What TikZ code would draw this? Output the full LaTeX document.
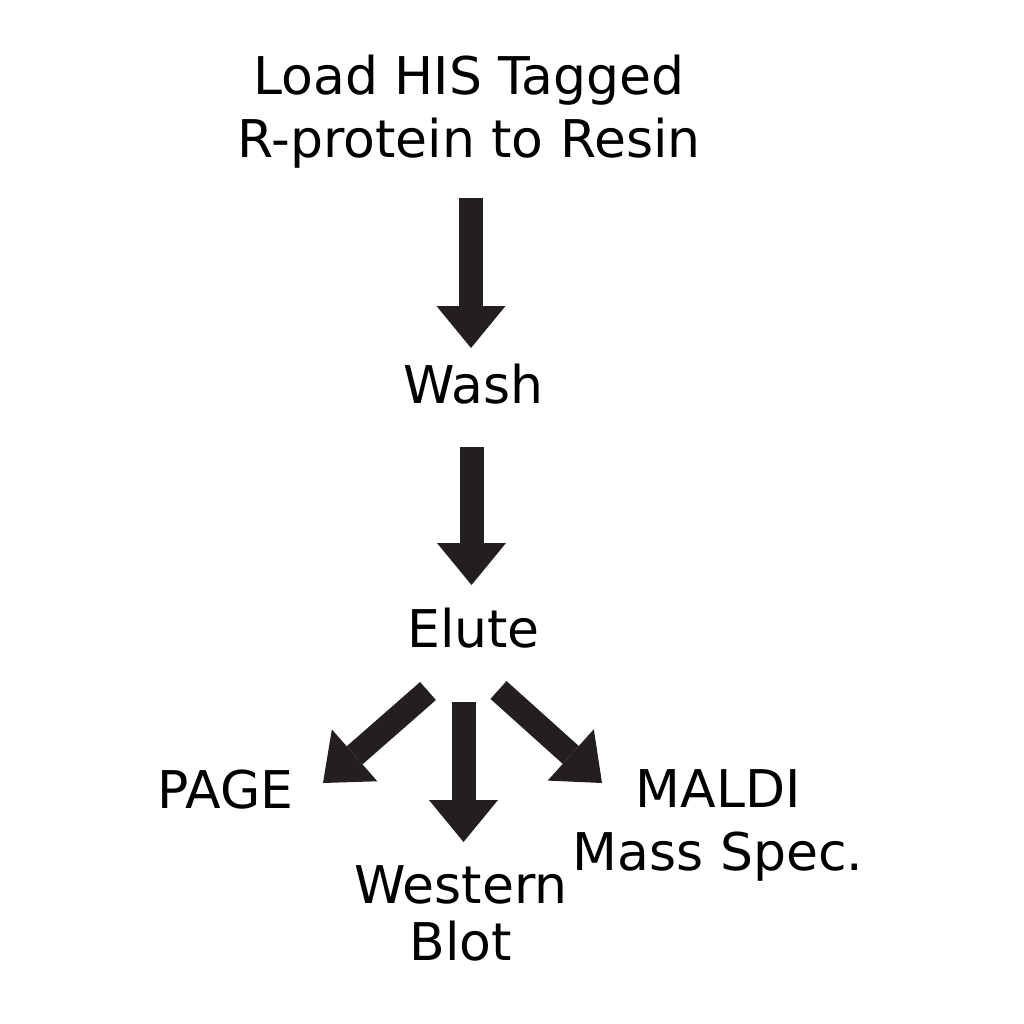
\documentclass[tikz,border=0pt]{standalone}
\usepackage{fontspec}
\setmainfont{DejaVu Sans}
\usetikzlibrary{arrows.meta}
\definecolor{arrowgray}{HTML}{231F20}
\begin{document}
\begin{tikzpicture}[x=1pt,y=-1pt,
  lbl/.style={inner sep=0pt,outer sep=0pt,anchor=base,align=center,
    font=\fontsize{52}{63}\selectfont,text=black},
  blockarrow/.style={draw=arrowgray,line width=24pt,line cap=butt,
    -{Triangle[length=42pt,width=69pt,line width=0pt]}}]
\useasboundingbox[fill=white] (0,0) rectangle (1024,1024);
% texts (base anchor = baseline of the last line)
\node[lbl] (load) at (469,158) {Load HIS Tagged\\R-protein to Resin};
\node[lbl] (wash) at (473.5,403) {Wash};
\node[lbl] (elute) at (473.5,647) {Elute};
\node[lbl] (page) at (225.5,808) {PAGE};
\node[lbl] (western) at (461,960) {Western\\[-6pt]Blot};
\node[lbl] (maldi) at (718,870) {MALDI\\Mass Spec.};
% arrow ends
\coordinate (a1s) at (471,198);   \coordinate (a1e) at (471,348);
\coordinate (a2s) at (471.5,447); \coordinate (a2e) at (471.5,585);
\coordinate (a3s) at (428,691);   \coordinate (a3e) at (323,783);
\coordinate (a4s) at (463.5,702); \coordinate (a4e) at (463.5,842);
\coordinate (a5s) at (498.5,690); \coordinate (a5e) at (602,783);
% arrows
\draw[blockarrow] (a1s) -- (a1e);
\draw[blockarrow] (a2s) -- (a2e);
\draw[blockarrow] (a3s) -- (a3e);
\draw[blockarrow] (a4s) -- (a4e);
\draw[blockarrow] (a5s) -- (a5e);
\end{tikzpicture}
\end{document}
